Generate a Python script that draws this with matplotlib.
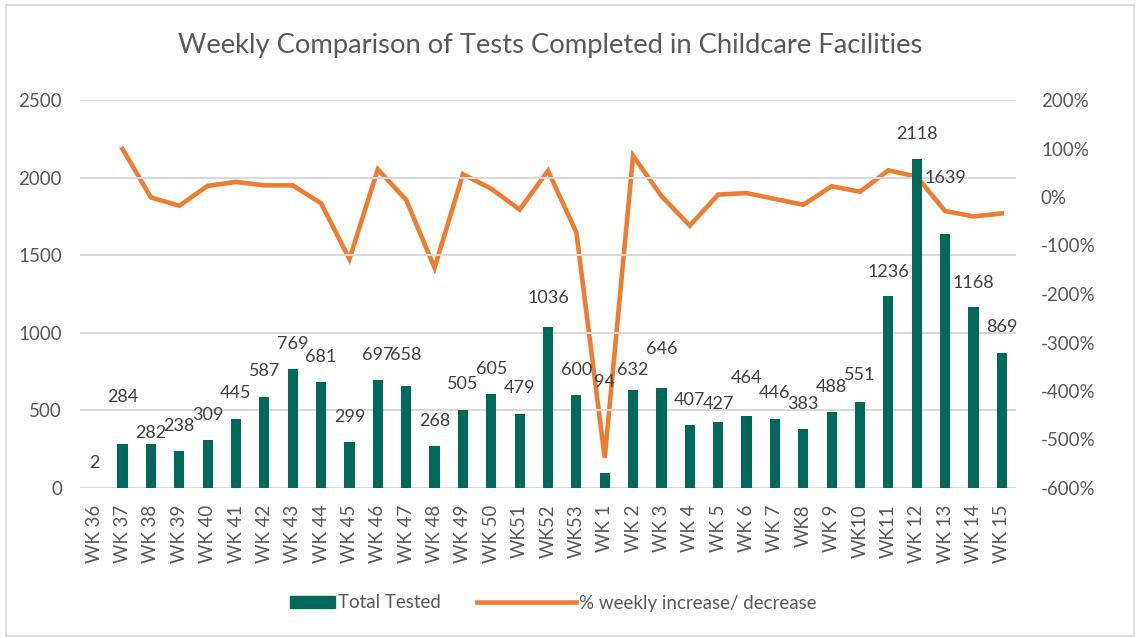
import numpy as np
import matplotlib
matplotlib.use("Agg")
import matplotlib.pyplot as plt
from matplotlib.patches import Rectangle
from matplotlib.legend_handler import HandlerPatch

plt.rcParams['font.family'] = ['Lato', 'DejaVu Sans']

weeks = ['WK 36', 'WK 37', 'WK 38', 'WK 39', 'WK 40', 'WK 41', 'WK 42', 'WK 43',
         'WK 44', 'WK 45', 'WK 46', 'WK 47', 'WK 48', 'WK 49', 'WK 50', 'WK51',
         'WK52', 'WK53', 'WK 1', 'WK 2', 'WK 3', 'WK 4', 'WK 5', 'WK 6', 'WK 7',
         'WK8', 'WK 9', 'WK10', 'WK11', 'WK 12', 'WK 13', 'WK 14', 'WK 15']
total_tested = [2, 284, 282, 238, 309, 445, 587, 769, 681, 299, 697, 658, 268,
                505, 605, 479, 1036, 600, 94, 632, 646, 407, 427, 464, 446, 383,
                488, 551, 1236, 2118, 1639, 1168, 869]
pct_change = [np.nan, 99, -1, -18, 23, 31, 24, 24, -13, -128, 57, -6, -146,
              47, 17, -26, 54, -73, -538, 85, 2, -59, 5, 8, -4, -16,
              22, 11, 55, 42, -29, -40, -34]

# label offsets above bar top (pixels), mimicking Excel's placement
label_dy = [25, 47, 11, 25, 25, 26, 26, 25, 25, 25, 25, 31, 25,
            26, 25, 26, 29, 25, 91, 20, 39, 25, 18, 38, 26, 25,
            25, 27, 24, 25, 56, 24, 26]

green = '#00695A'
orange = '#ED7D31'
grey = '#595959'


def short_bar(legend, orig_handle, xdescent, ydescent, width, height, fontsize):
    # narrower swatch for the bar series, right-aligned next to its text
    w = 45 * 0.72
    return Rectangle((-xdescent + width - w, -ydescent), w, height)


fig = plt.figure(figsize=(11.39, 6.38), dpi=100)
ax = fig.add_axes([80 / 1139, 1 - 488 / 638, 936 / 1139, 388 / 638])
ax2 = ax.twinx()

x = np.arange(len(weeks))
ax.bar(x, total_tested, width=0.36, color=green, zorder=2)
line, = ax2.plot(x, pct_change, color=orange, lw=3.3, solid_joinstyle='miter', zorder=3)

for xi, v, dy in zip(x, total_tested, label_dy):
    ax.annotate(str(v), (xi, v), xytext=(0, dy * 0.72), textcoords='offset points',
                ha='center', va='center', fontsize=13, color='#404040', zorder=5)

ax.set_xlim(-0.5, len(weeks) - 0.5)
ax.set_ylim(0, 2500)
ax.set_yticks(range(0, 2501, 500))
ax2.set_ylim(-600, 200)
ax2.set_yticks(range(-600, 201, 100))
ax2.set_yticklabels([f'{t}%' for t in range(-600, 201, 100)])

ax.set_xticks(x)
ax.set_xticklabels(weeks, rotation=90)
ax.grid(axis='y', color='#D9D9D9', lw=1.5, zorder=0)
ax.set_axisbelow(True)
ax.set_zorder(ax2.get_zorder() + 1)
ax.patch.set_visible(False)

for a in (ax, ax2):
    for s in a.spines.values():
        s.set_visible(False)
    a.tick_params(length=0, labelsize=13.5, colors=grey)
ax.tick_params(axis='y', pad=13)
ax.tick_params(axis='x', pad=12)
ax2.tick_params(axis='y', pad=18)

fig.text(0.483, 1 - 45 / 638, 'Weekly Comparison of Tests Completed in Childcare Facilities',
         ha='center', va='center', fontsize=19.7, color=grey)

bar_proxy = Rectangle((0, 0), 1, 1, color=green)
fig.legend([bar_proxy, line], ['Total Tested', '% weekly increase/ decrease'],
           loc='center', bbox_to_anchor=(0.462, 1 - 603 / 638),
           ncol=2, frameon=False, fontsize=13.5, labelcolor=grey,
           handlelength=5.3, handleheight=0.6, columnspacing=1.9, handletextpad=0.15,
           handler_map={bar_proxy: HandlerPatch(patch_func=short_bar)})

fig.patches.append(Rectangle((6 / 1139, 2 / 638), 1128 / 1139, 631 / 638,
                             transform=fig.transFigure, fill=False,
                             edgecolor='#D9D9D9', lw=1.2))

fig.savefig('out.png', dpi=100)
